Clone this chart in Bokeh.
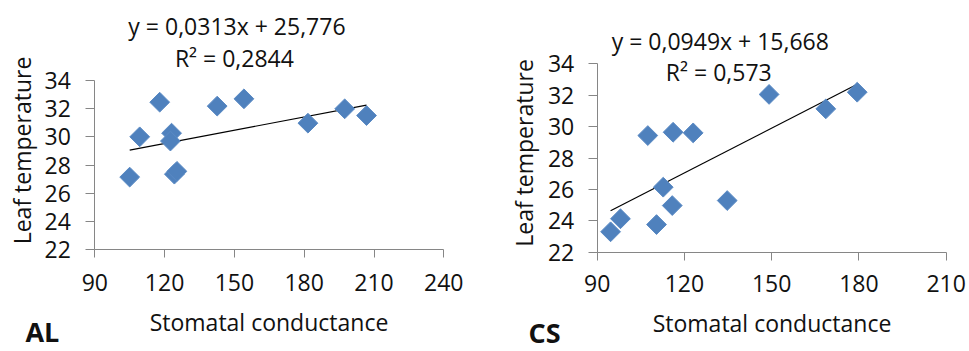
import math
from bokeh.plotting import figure
from bokeh.models import Range1d, FixedTicker, Label, LinearAxis
from bokeh.embed import file_html
from bokeh.resources import INLINE

# ---------------- data ----------------
AL_conductance = [105.0, 109.3, 117.9, 123.0, 122.5, 124.2, 125.3, 142.6, 154.1, 181.6, 197.4, 206.8]
AL_temperature = [27.14, 30.0, 32.46, 30.26, 29.7, 27.35, 27.55, 32.18, 32.70, 30.97, 31.99, 31.51]
AL_slope = 0.0313
AL_intercept = 25.776
AL_equation = "y = 0,0313x + 25,776"
AL_r2 = "R\u00b2 = 0,2844"
AL_xticks = [90, 120, 150, 180, 210, 240]

CS_conductance = [94.6, 98.0, 110.4, 107.4, 116.1, 123.0, 112.7, 115.8, 134.7, 149.1, 168.6, 179.4]
CS_temperature = [23.3, 24.13, 23.76, 29.43, 29.64, 29.6, 26.14, 24.97, 25.29, 32.05, 31.13, 32.19]
CS_slope = 0.0949
CS_intercept = 15.668
CS_equation = "y = 0,0949x + 15,668"
CS_r2 = "R\u00b2 = 0,573"
CS_xticks = [90, 120, 150, 180, 210]

y_ticks = [22, 24, 26, 28, 30, 32, 34]
x_title = "Stomatal conductance"
y_title = "Leaf temperature"

# ---------------- layout / style ----------------
W, H = 969, 351
FONT = "Open Sans"
AXIS_COLOR = "#868686"
TEXT_COLOR = "#111111"
MARKER_COLOR = "#4F81BD"

# pixel box of each plot area: (left, right, top, bottom)
AL_box = (94.3, 443.3, 80.0, 249.0)
CS_box = (596.7, 945.7, 63.3, 251.7)


def x_range_for(ticks, box):
    scale = (box[1] - box[0]) / (ticks[-1] - ticks[0])
    return Range1d(ticks[0] - box[0] / scale, ticks[0] + (W - box[0]) / scale)


def y_range_for(ticks, box):
    scale = (box[3] - box[2]) / (ticks[-1] - ticks[0])
    return Range1d(ticks[0] - (H - box[3]) / scale, ticks[-1] + box[2] / scale)


p = figure(width=W, height=H, output_backend="svg", toolbar_location=None,
           x_range=x_range_for(AL_xticks, AL_box), y_range=y_range_for(y_ticks, AL_box),
           x_axis_type=None, y_axis_type=None,
           min_border_left=0, min_border_right=0, min_border_top=0, min_border_bottom=0)
p.extra_x_ranges = {"cs_x": x_range_for(CS_xticks, CS_box)}
p.extra_y_ranges = {"cs_y": y_range_for(y_ticks, CS_box)}
p.outline_line_color = None
p.background_fill_color = "white"
p.border_fill_color = "white"


def panel(xs, ys, slope, intercept, eq, r2, xticks, name, xr, yr,
          tick_size, x_std, y_std, xlab_std, eq_pos, r2_pos, name_pos, ylab_pos):
    kw = {}
    if xr is not None:
        kw = dict(x_range_name=xr, y_range_name=yr)
    xa = LinearAxis(fixed_location=y_ticks[0], bounds=(xticks[0], xticks[-1]),
                    ticker=FixedTicker(ticks=xticks), **kw)
    ya = LinearAxis(fixed_location=xticks[0], bounds=(y_ticks[0], y_ticks[-1]),
                    ticker=FixedTicker(ticks=y_ticks), **kw)
    for ax in (xa, ya):
        ax.axis_line_color = AXIS_COLOR
        ax.major_tick_line_color = AXIS_COLOR
        ax.minor_tick_line_color = None
        ax.major_tick_in = 0
        ax.major_label_text_font = FONT
        ax.major_label_text_font_size = tick_size
        ax.major_label_text_color = TEXT_COLOR
    xa.major_tick_out = 8
    ya.major_tick_out = 9
    xa.major_label_standoff = x_std
    ya.major_label_standoff = y_std
    xa.axis_label = x_title
    xa.axis_label_text_font = FONT
    xa.axis_label_text_font_size = "23px"
    xa.axis_label_text_font_style = "normal"
    xa.axis_label_text_color = TEXT_COLOR
    xa.axis_label_standoff = xlab_std
    p.add_layout(xa, "below")
    p.add_layout(ya, "left")

    # trendline over data range
    x0, x1 = min(xs), max(xs)
    p.line([x0, x1], [slope * x0 + intercept, slope * x1 + intercept],
           line_color="#000000", line_width=1.2, **kw)

    p.scatter(xs, ys, marker="square", angle=math.pi / 4, size=14,
              fill_color=MARKER_COLOR, line_color="#5A8AC4", line_width=1, **kw)

    common = dict(text_font=FONT, text_color=TEXT_COLOR, **kw)
    p.add_layout(Label(x=eq_pos[0], y=eq_pos[1], text=eq, text_align="center",
                       text_baseline="middle", text_font_size="23px", **common))
    p.add_layout(Label(x=r2_pos[0], y=r2_pos[1], text=r2, text_align="center",
                       text_baseline="middle", text_font_size="23px", **common))
    p.add_layout(Label(x=name_pos[0], y=name_pos[1], text=name, text_align="left",
                       text_baseline="middle", text_font_size="27px",
                       text_font_style="bold", **common))
    p.add_layout(Label(x=ylab_pos[0], y=ylab_pos[1], text=y_title, angle=math.pi / 2,
                       text_align="center", text_baseline="middle",
                       text_font_size="23px", **common))


panel(AL_conductance, AL_temperature, AL_slope, AL_intercept, AL_equation, AL_r2,
      AL_xticks, "AL", None, None, "23px", 16, 15, 12,
      (151.1, 37.9), (150.0, 35.6), (60.2, 16.18), (58.5, 29.03))
panel(CS_conductance, CS_temperature, CS_slope, CS_intercept, CS_equation, CS_r2,
      CS_xticks, "CS", "cs_x", "cs_y", "23px", 15, 14, 11,
      (132.33, 35.48), (131.81, 33.46), (66.38, 16.89), (65.0, 28.32))

open("out.html", "w").write(file_html(p, INLINE))
